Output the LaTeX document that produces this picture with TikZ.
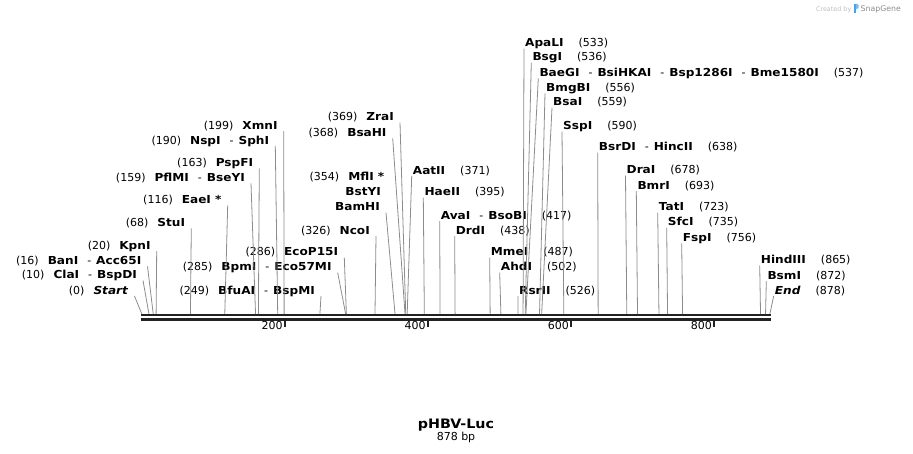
\documentclass[tikz,border=0pt]{standalone}
\usepackage{fontspec}
\setmainfont{DejaVu Sans}[BoldFeatures={FakeStretch=1.1},BoldItalicFeatures={FakeStretch=1.1}]
\usetikzlibrary{positioning}

\definecolor{cutgray}{RGB}{140,140,140}
\definecolor{seqblack}{RGB}{34,34,34}
\definecolor{snapblue}{RGB}{70,160,230}

\newcommand{\alsocut}{\hspace{9pt}-\hspace{5pt}}
\newcommand{\numgap}{\hspace{9pt}}
\newcommand{\posgap}{\hspace{15pt}}

\begin{document}
\begin{tikzpicture}[x=1pt, y=-1pt,
    every node/.style={inner sep=0pt, font=\fontsize{11}{13}\selectfont},
    leftlabel/.style={anchor=base east},
    rightlabel/.style={anchor=base west},
    cutline/.style={draw=cutgray, line width=0.8pt},
    seqline/.style={draw=seqblack, line width=2.3pt},
    rulertick/.style={draw=seqblack, line width=2pt},
  ]
  \useasboundingbox (0,0) rectangle (913,453);

  % Sequence
  \foreach \p in {0,10,16,20,68,116,159,163,190,199,249,285,286,326,354,368,369,371,395,417,438,487,502,526,533,536,537,556,559,590,638,678,693,723,735,756,865,872,878}
    \coordinate (s\p) at ({141.8+0.7153*\p},314);
  \draw[seqline] (141,315.2) -- (771,315.2);
  \draw[seqline] (141,319.4) -- (771,319.4);
  \foreach \t in {200,400,600,800}{
    \coordinate (t\t) at ({141.8+0.7153*\t},320.5);
    \draw[rulertick] (t\t) -- ++(0,6.5);
    \node[anchor=base east] (tl\t) at ([shift={(-2,8.5)}]t\t) {\t};
  }

  % Sites left of their lines
  \node[leftlabel] (start) at (128.5,294) {(0)\numgap\textbf{\textit{Start}}};
  \node[leftlabel] (clai) at (137,278.5) {(10)\numgap\textbf{ClaI}\alsocut\textbf{BspDI}};
  \node[leftlabel] (bani) at (141.5,264.3) {(16)\numgap\textbf{BanI}\alsocut\textbf{Acc65I}};
  \node[leftlabel] (kpni) at (150.7,249) {(20)\numgap\textbf{KpnI}};
  \node[leftlabel] (stui) at (185.3,226.3) {(68)\numgap\textbf{StuI}};
  \node[leftlabel] (eaei) at (221.7,203.3) {(116)\numgap\textbf{EaeI *}};
  \node[leftlabel] (pflmi) at (245,181.3) {(159)\numgap\textbf{PflMI}\alsocut\textbf{BseYI}};
  \node[leftlabel] (pspfi) at (253.3,166.3) {(163)\numgap\textbf{PspFI}};
  \node[leftlabel] (nspi) at (269.3,144) {(190)\numgap\textbf{NspI}\alsocut\textbf{SphI}};
  \node[leftlabel] (xmni) at (277.7,129) {(199)\numgap\textbf{XmnI}};
  \node[leftlabel] (bfuai) at (315,294) {(249)\numgap\textbf{BfuAI}\alsocut\textbf{BspMI}};
  \node[leftlabel] (bpmi) at (331.7,270.7) {(285)\numgap\textbf{BpmI}\alsocut\textbf{Eco57MI}};
  \node[leftlabel] (ecop) at (338.3,255.7) {(286)\numgap\textbf{EcoP15I}};
  \node[leftlabel] (ncoi) at (370,234) {(326)\numgap\textbf{NcoI}};
  \node[leftlabel] (mfli) at (384.5,180.7) {(354)\numgap\textbf{MflI *}};
  \node[leftlabel] (bstyi) at (381,195.7) {\textbf{BstYI}};
  \node[leftlabel] (bamhi) at (380,210.7) {\textbf{BamHI}};
  \node[leftlabel] (bsahi) at (386.7,136.3) {(368)\numgap\textbf{BsaHI}};
  \node[leftlabel] (zrai) at (394,120.7) {(369)\numgap\textbf{ZraI}};

  % Sites right of their lines
  \node[rightlabel] (aatii) at (412.7,174) {\textbf{AatII}\posgap(371)};
  \node[rightlabel] (haeii) at (424.3,195.7) {\textbf{HaeII}\posgap(395)};
  \node[rightlabel] (avai) at (440.7,219) {\textbf{AvaI}\alsocut\textbf{BsoBI}\posgap(417)};
  \node[rightlabel] (drdi) at (455.7,234) {\textbf{DrdI}\posgap(438)};
  \node[rightlabel] (mmei) at (490.7,255.7) {\textbf{MmeI}\posgap(487)};
  \node[rightlabel] (ahdi) at (500.7,270.7) {\textbf{AhdI}\posgap(502)};
  \node[rightlabel] (rsrii) at (519,294) {\textbf{RsrII}\posgap(526)};
  \node[rightlabel] (apali) at (525,46.7) {\textbf{ApaLI}\posgap(533)};
  \node[rightlabel] (bsgi) at (532.3,60.7) {\textbf{BsgI}\posgap(536)};
  \node[rightlabel] (baegi) at (539.3,76.3) {\textbf{BaeGI}\alsocut\textbf{BsiHKAI}\alsocut\textbf{Bsp1286I}\alsocut\textbf{Bme1580I}\posgap(537)};
  \node[rightlabel] (bmgbi) at (546,91.3) {\textbf{BmgBI}\posgap(556)};
  \node[rightlabel] (bsai) at (553,105.7) {\textbf{BsaI}\posgap(559)};
  \node[rightlabel] (sspi) at (563,129.5) {\textbf{SspI}\posgap(590)};
  \node[rightlabel] (bsrdi) at (598.7,150.7) {\textbf{BsrDI}\alsocut\textbf{HincII}\posgap(638)};
  \node[rightlabel] (drai) at (626.5,173.5) {\textbf{DraI}\posgap(678)};
  \node[rightlabel] (bmri) at (637.3,189) {\textbf{BmrI}\posgap(693)};
  \node[rightlabel] (tati) at (658.7,210.7) {\textbf{TatI}\posgap(723)};
  \node[rightlabel] (sfci) at (667.7,225.7) {\textbf{SfcI}\posgap(735)};
  \node[rightlabel] (fspi) at (682.7,241.3) {\textbf{FspI}\posgap(756)};
  \node[rightlabel] (hindiii) at (760.7,263.3) {\textbf{HindIII}\posgap(865)};
  \node[rightlabel] (bsmi) at (767.3,279) {\textbf{BsmI}\posgap(872)};
  \node[rightlabel] (endl) at (774.7,294) {\textbf{\textit{End}}\posgap(878)};

  % Lines to the cut sites
  \foreach \n/\p in {start/0,clai/10,bani/16,kpni/20,stui/68,eaei/116,pflmi/159,pspfi/163,nspi/190,xmni/199,bfuai/249,bpmi/285,ecop/286,ncoi/326,bamhi/354,bsahi/368,zrai/369}
    \draw[cutline] ([shift={(6,2)}]\n.base east) -- (s\p);
  \foreach \n/\p in {aatii/371,haeii/395,avai/417,drdi/438,mmei/487,ahdi/502,rsrii/526,apali/533,bsgi/536,baegi/537,bmgbi/556,bsai/559,sspi/590,bsrdi/638,drai/678,bmri/693,tati/723,sfci/735,fspi/756,hindiii/865,bsmi/872,endl/878}
    \draw[cutline] ([shift={(-1,2)}]\n.base west) -- (s\p);

  % Map name
  \node[anchor=base, font=\fontsize{13}{15}\selectfont\bfseries] (title) at (456,428) {pHBV-Luc};
  \node[anchor=base] (length) at (456,440.5) {878 bp};

  % Watermark
  \node[anchor=base east, font=\fontsize{6.4}{8}\selectfont, text=black!25] (created) at (851.5,11) {Created by};
  \fill[snapblue] (853.5,3.5) rectangle (855.8,13);
  \fill[snapblue!70] (855.8,3.5) -- (858.6,4.8) -- (858.6,8.2) -- (855.8,9.2) -- cycle;
  \node[anchor=base west, font=\fontsize{7.8}{9}\selectfont, text=black!45] (snapgene) at (860.5,11) {SnapGene};
\end{tikzpicture}
\end{document}
